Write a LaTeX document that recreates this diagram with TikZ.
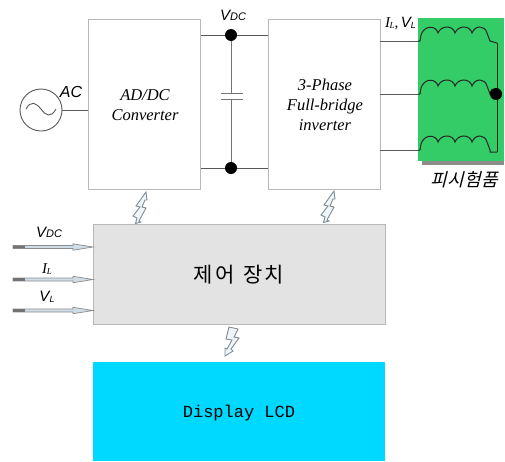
\documentclass[tikz,border=0pt]{standalone}
\usepackage{fontspec}
\setmainfont{Liberation Serif}
\setsansfont{Liberation Sans}
\setmonofont{Liberation Mono}
\newfontfamily\krfont[LetterSpace=9,WordSpace=1.4]{Noto Sans CJK KR}
\newfontfamily\krslant[FakeSlant=0.25,LetterSpace=2]{Noto Sans CJK KR}
\usetikzlibrary{arrows.meta,calc}
\newcommand{\sigV}[2]{{\sffamily\itshape #1{\fontsize{11}{11}\selectfont #2}}}
\definecolor{dutgreen}{RGB}{51,204,102}
\definecolor{lcdcyan}{RGB}{0,217,255}
\definecolor{arrowfill}{RGB}{208,220,230}
\definecolor{boltedge}{RGB}{125,140,150}
\definecolor{boltfill}{RGB}{240,245,248}
\tikzset{
  x=1pt,y=-1pt,
  blockbox/.style={draw=black!28,line width=1.1pt,fill=white,inner sep=0pt,anchor=north west,align=center},
  wire/.style={draw=black!65,line width=1pt},
  junction/.style={circle,fill=black,inner sep=0pt,minimum size=12pt},
  blocklabel/.style={font=\rmfamily\itshape\fontsize{16.5}{20}\selectfont,align=center},
  siglabel/.style={font=\sffamily\itshape\fontsize{15}{16}\selectfont,inner sep=0pt},
  coilline/.style={draw=black!85,line width=1pt},
  boltshape/.style={draw=boltedge,fill=boltfill,line width=.9pt},
  inarrow/.style={draw=black!45,fill=arrowfill,line width=.7pt},
}
\newcommand{\inputarrow}[2]{%
  \path[inarrow] (13,#1-1.5) -- (73,#1-1.5) -- (73,#1-3.2) -- (#2,#1) -- (73,#1+3.2) -- (73,#1+1.5) -- (13,#1+1.5) -- cycle;
  \fill[black!55] (13,#1-1.3) rectangle (25,#1+1.3);
}
\newcommand{\boltup}[2]{%
  \path[boltshape,shift={(#1,#2)}] (10,0) -- (0,14) -- (4,15) -- (-3,24) -- (1,26) -- (-0.5,31.5) -- (5,30) -- (3,29) -- (10,16) -- (6,15) -- (9,8) -- (11,8) -- cycle;
}
\newcommand{\boltdown}[2]{%
  \path[boltshape,shift={(#1,#2)}] (3,0) -- (12,2) -- (8,10) -- (13,11) -- (5,22) -- (7,24) -- (-1,29) -- (-1,21) -- (1,22) -- (6,13) -- (0,12) -- cycle;
}
\newcommand{\coil}[2]{%
  \draw[coilline] (418,#1) -- (420,#1) -- (421,#1-6)
    .. controls (424,#1-16) and (436,#1-16) .. (438,#1-8)
    .. controls (441,#1-16) and (453,#1-16) .. (455,#1-8)
    .. controls (458,#1-16) and (470,#1-16) .. (472,#1-8)
    .. controls (475,#1-16) and (485,#1-16) .. (487,#1-8)
    -- (490,#1) -- (#2);
}
\begin{document}
\begin{tikzpicture}
\useasboundingbox (0,0) rectangle (505,461);
\fill[black!45] (422,22) rectangle (504,165);
\node[fill=dutgreen,inner sep=0pt,anchor=north west,minimum width=86pt,minimum height=143pt] (dut) at (418,18) {};
\node[blockbox,minimum width=112pt,minimum height=170pt] (conv) at (88,19) {};
\node[blocklabel] at (145,105) {AD/DC\\Converter};
\node[blockbox,minimum width=112pt,minimum height=170pt] (inv) at (268,19) {};
\node[blocklabel] at (325,105) {3-Phase\\Full-bridge\\inverter};
\node[blockbox,fill=black!11,minimum width=292pt,minimum height=100pt] (ctrl) at (93,224) {};
\node[font=\krfont\fontsize{21}{22}\selectfont] at (239,275) {제어 장치};
\node[anchor=north west,fill=lcdcyan,inner sep=0pt,minimum width=292pt,minimum height=99pt] (lcd) at (93,362) {};
\node[font=\ttfamily\fontsize{17}{18}\selectfont] at (239,413) {Display LCD};
\node[circle,draw=black!65,line width=.9pt,minimum size=42pt,inner sep=0pt] (src) at (41,110) {};
\draw[black!65,line width=.9pt] (26,109) .. controls (31,100) and (36,103) .. (41,109) .. controls (46,116) and (51,118) .. (56,109);
\draw[wire] (src.east) -- (src.east -| conv.west);
\coordinate (busa) at (231,35);
\coordinate (busb) at (231,168);
\draw[wire] (busa -| conv.east) -- (busa -| inv.west);
\draw[wire] (busb -| conv.east) -- (busb -| inv.west);
\coordinate (capa) at (231,93);
\coordinate (capb) at (231,99);
\draw[wire,black!55] (busa) -- (capa);
\draw[wire,black!55] (capb) -- (busb);
\draw[wire,black!55] (221,93) -- (243,93);
\draw[wire,black!55] (221,99) -- (243,99);
\node[junction] (ja) at (busa) {};
\node[junction] (jb) at (busb) {};
\draw[wire] (380,41) -- (418,41);
\draw[wire] (380,94) -- (418,94);
\draw[wire] (380,150) -- (418,150);
\coil{41}{497,43}
\coil{94}{492,89}
\coil{150}{490,152) -- (497,152}
\draw[coilline] (497,43) -- (497,152);
\node[junction] (star) at (496,94) {};
\node[siglabel,font=\sffamily\itshape\fontsize{16}{17}\selectfont] at (71,92) {AC};
\node[siglabel] at (233,15) {\sigV{V}{DC}};
\node[siglabel,anchor=west] at (385,23) {\rmfamily I\kern-.5pt\raisebox{-1pt}{\fontsize{9}{9}\selectfont L},\,\sffamily V\raisebox{-1pt}{\fontsize{9}{9}\selectfont L}};
\node[font=\krslant\fontsize{18}{19}\selectfont,inner sep=0pt] at (464,180) {피시험품};
\node[siglabel] at (49,232) {\sigV{V}{DC}};
\node[siglabel] at (47,269) {\rmfamily I\raisebox{-1pt}{\fontsize{9}{9}\selectfont L}};
\node[siglabel] at (47,297) {\sffamily V\raisebox{-1pt}{\fontsize{9}{9}\selectfont L}};
\inputarrow{247}{93}
\inputarrow{279.5}{93}
\inputarrow{310.5}{93}
\boltup{136}{192}
\boltup{324}{191}
\boltdown{226}{327}
\end{tikzpicture}
\end{document}
